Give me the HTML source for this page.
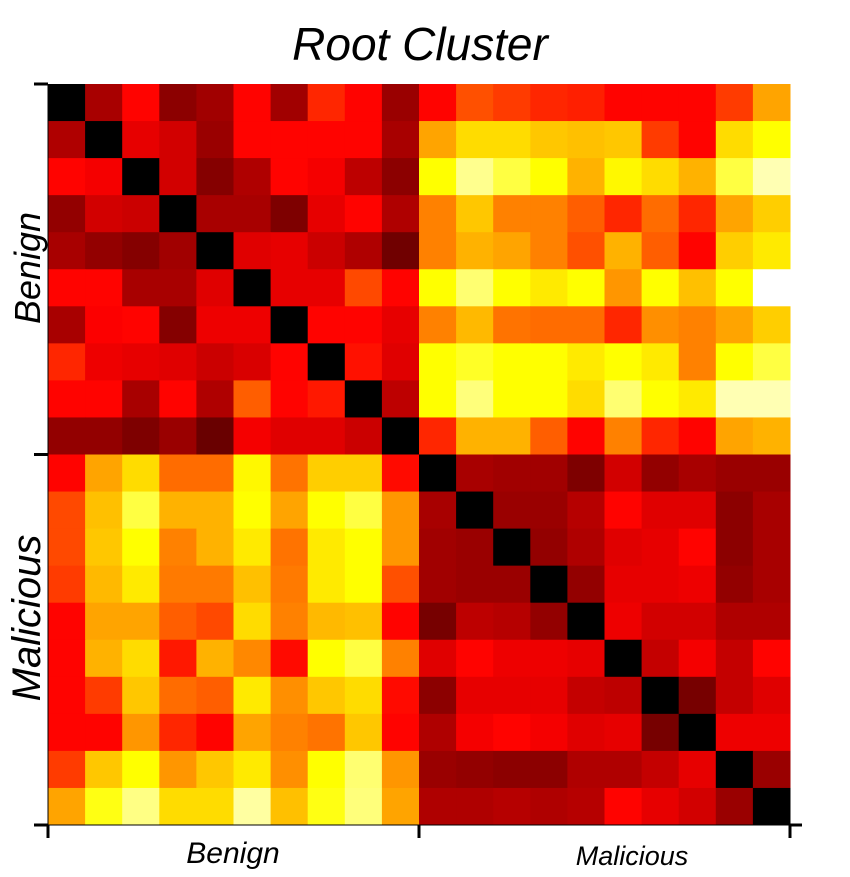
<!DOCTYPE html>
<html><head><meta charset="utf-8"><style>
html,body{margin:0;padding:0;background:#fff;}
svg{display:block;}
text{font-family:"Liberation Sans",sans-serif;font-style:italic;fill:#000;}
</style></head><body>
<svg id="chart" width="850" height="877">
<text x="420" y="60" font-size="46" text-anchor="middle" font-weight="300">Root Cluster</text>
<g id="cells"></g>
<g id="axes"></g>
<text x="233" y="863" font-size="30" text-anchor="middle">Benign</text>
<text x="632" y="865" font-size="27" text-anchor="middle">Malicious</text>
<text transform="translate(40,268) rotate(-90)" font-size="36" text-anchor="middle">Benign</text>
<text transform="translate(40,618) rotate(-90)" font-size="40" text-anchor="middle">Malicious</text>
</svg>
<script>
const rowLabels = ["Benign","Malicious"];
const colLabels = ["Benign","Malicious"];
const rows = [
[0,.24,.37,.2,.23,.37,.23,.42,.37,.22, .37,.48,.45,.42,.41,.37,.37,.37,.45,.6],
[.25,0,.33,.3,.22,.37,.37,.37,.37,.24, .6,.68,.68,.65,.64,.65,.45,.37,.68,.73],
[.37,.35,0,.3,.19,.25,.37,.35,.27,.2, .73,.88,.8,.73,.62,.72,.68,.62,.8,.92],
[.21,.3,.29,0,.24,.24,.18,.33,.37,.25, .55,.65,.55,.55,.5,.42,.52,.42,.6,.66],
[.24,.21,.19,.23,0,.32,.33,.29,.25,.16, .55,.62,.6,.55,.48,.62,.5,.37,.66,.7],
[.37,.37,.24,.24,.32,0,.33,.33,.47,.37, .73,.85,.73,.7,.73,.58,.73,.64,.73,1.0],
[.24,.36,.37,.19,.34,.34,0,.37,.37,.33, .55,.63,.53,.52,.52,.42,.57,.55,.6,.66],
[.42,.34,.33,.32,.29,.31,.37,0,.39,.32, .73,.77,.73,.73,.7,.73,.7,.55,.73,.8],
[.37,.37,.24,.37,.25,.5,.37,.4,0,.27, .73,.86,.73,.73,.68,.85,.73,.7,.92,.92],
[.21,.21,.18,.22,.15,.35,.32,.32,.29,0, .42,.62,.62,.5,.37,.55,.42,.37,.6,.62],
[.37,.6,.68,.52,.52,.72,.53,.66,.66,.38, 0,.24,.23,.23,.18,.3,.21,.24,.22,.22],
[.47,.64,.8,.62,.62,.73,.6,.73,.8,.58, .24,0,.22,.22,.26,.37,.32,.32,.2,.24],
[.47,.65,.73,.55,.62,.7,.53,.7,.73,.58, .23,.22,0,.21,.25,.32,.33,.37,.2,.24],
[.45,.63,.7,.54,.54,.64,.54,.7,.73,.48, .23,.22,.22,0,.21,.33,.33,.34,.21,.24],
[.37,.6,.6,.5,.47,.68,.55,.63,.64,.37, .17,.27,.26,.21,0,.34,.3,.3,.25,.25],
[.37,.62,.68,.4,.62,.56,.38,.73,.8,.55, .32,.37,.34,.34,.33,0,.28,.35,.28,.37],
[.37,.45,.65,.52,.5,.7,.57,.65,.68,.38, .2,.33,.33,.33,.28,.27,0,.17,.28,.32],
[.37,.37,.58,.42,.37,.6,.55,.53,.65,.37, .25,.35,.37,.35,.32,.33,.17,0,.34,.34],
[.45,.65,.73,.58,.65,.7,.57,.73,.85,.58, .22,.21,.2,.2,.25,.25,.28,.33,0,.22],
[.6,.75,.87,.68,.68,.9,.64,.75,.86,.6, .25,.25,.26,.25,.26,.37,.33,.3,.22,0]
];
const X0=48, X1=790, Y0=84, Y1=825;
const N = rows.length;
function xPos(i){return X0+(X1-X0)*i/N;}
function yPos(i){return Y0+(Y1-Y0)*i/N;}
function hot(v){
  const c=t=>Math.max(0,Math.min(1,t));
  const r=c(v/0.365), g=c((v-0.365)/0.365), b=c((v-0.73)/0.27);
  return `rgb(${Math.round(r*255)},${Math.round(g*255)},${Math.round(b*255)})`;
}
const NS="http://www.w3.org/2000/svg";
const cells=document.getElementById('cells');
rows.forEach((row,i)=>row.forEach((v,j)=>{
  const r=document.createElementNS(NS,'rect');
  r.setAttribute('x',xPos(j)); r.setAttribute('y',yPos(i));
  r.setAttribute('width',xPos(j+1)-xPos(j)+0.5); r.setAttribute('height',yPos(i+1)-yPos(i)+0.5);
  r.setAttribute('fill',hot(v));
  
  
  cells.appendChild(r);
}));
const axes=document.getElementById('axes');
function line(x1,y1,x2,y2,w,name){
  const l=document.createElementNS(NS,'line');
  l.setAttribute('x1',x1);l.setAttribute('y1',y1);l.setAttribute('x2',x2);l.setAttribute('y2',y2);
  l.setAttribute('stroke','#000');l.setAttribute('stroke-width',w);
  
  
  axes.appendChild(l);
}
line(X0,Y0,X0,Y1,1,'y-axis-line');
line(X0,Y1,X1,Y1,1,'x-axis-line');
[0,N/2,N].forEach(k=>{
  line(34,yPos(k),X0,yPos(k),3,'y-tick');
  line(xPos(k),Y1,xPos(k),838,3,'x-tick');
});
line(X1,Y1,802,Y1,3,'x-tick-end');
</script>
</body></html>
